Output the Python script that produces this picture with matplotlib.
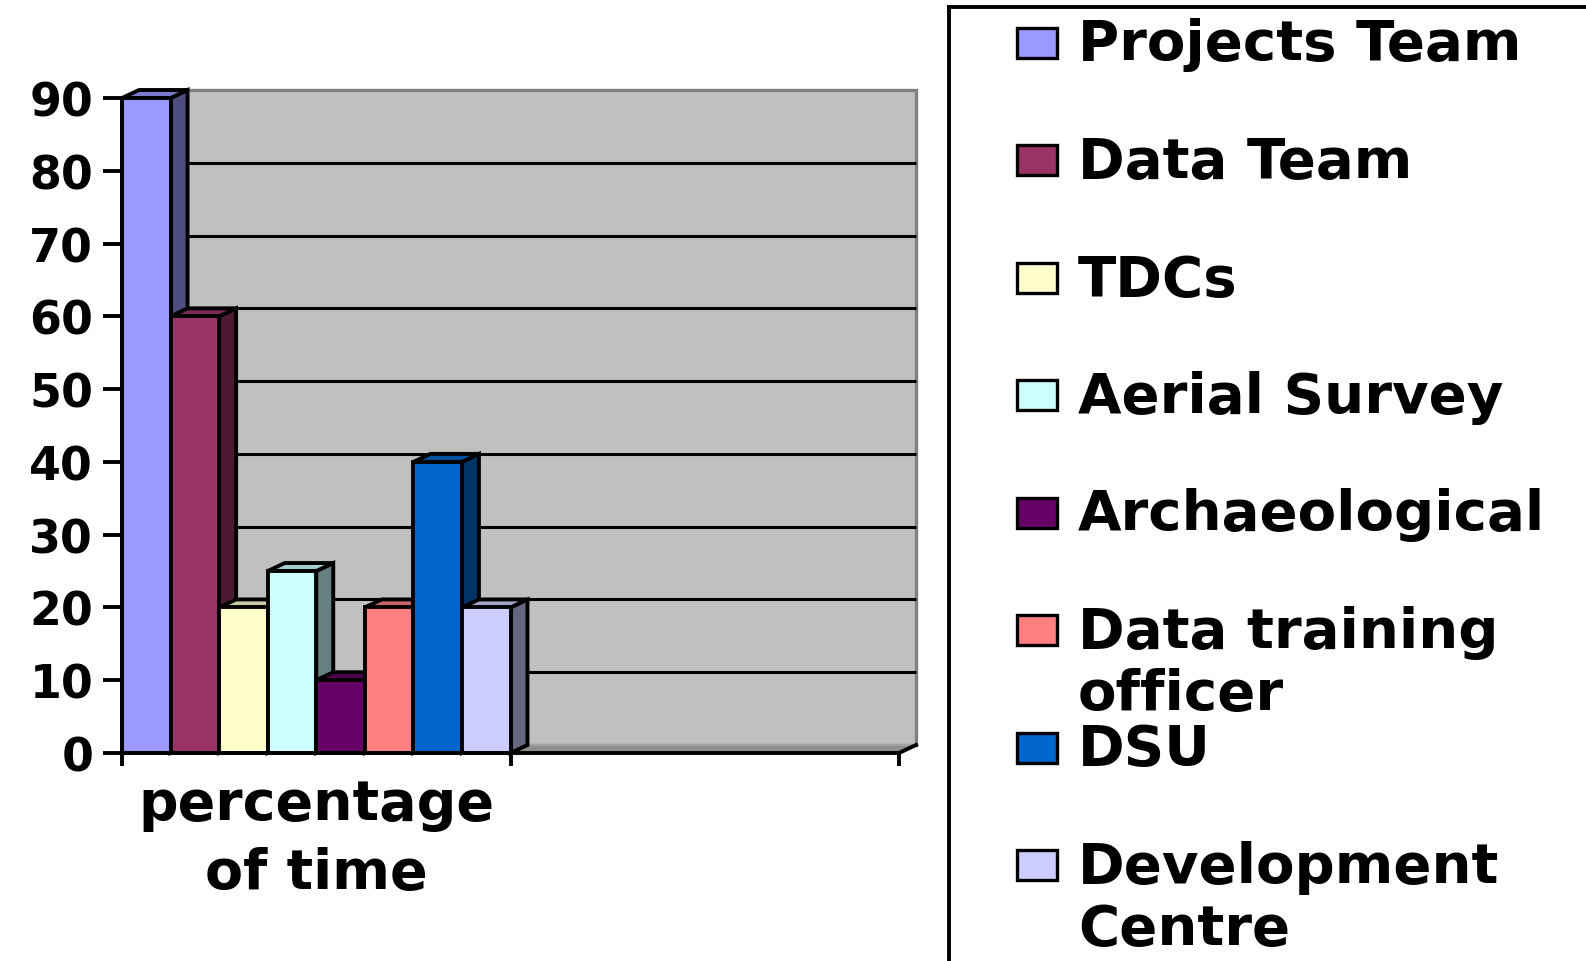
import matplotlib
matplotlib.use('Agg')
import matplotlib.pyplot as plt
from matplotlib.patches import Polygon, Rectangle
from matplotlib.lines import Line2D
import matplotlib.colors as mcolors

# ---- data ----
categories = ['percentage\nof time', '']
series = ['Projects Team', 'Data Team', 'TDCs', 'Aerial Survey', 'Archaeological',
          'Data training\nofficer', 'DSU', 'Development\nCentre']
values = [90, 60, 20, 25, 10, 20, 40, 20]
colors = ['#9999FF', '#993366', '#FFFFCC', '#CCFFFF', '#660066', '#FF8080', '#0066CC', '#CCCCFF']
yticks = [0, 10, 20, 30, 40, 50, 60, 70, 80, 90]

plt.rcParams['font.family'] = ['DejaVu Sans']
plt.rcParams['font.weight'] = 'bold'

W, H = 1586, 962
fig = plt.figure(figsize=(W / 100, H / 100), dpi=100)
fig.patch.set_facecolor('white')

def fx(px):
    return px / W

def fy(py):
    return 1 - py / H

EDGE = 2.8

# plot area: x 122..899 px, y 99 (90) .. 754 (0)
ax = fig.add_axes([fx(122), fy(754), (899 - 122) / W, (754 - 99) / H])
ncat = len(categories)
ax.set_xlim(0, ncat)
ax.set_ylim(yticks[0], yticks[-1])
ax.patch.set_visible(False)
for s in ['top', 'right']:
    ax.spines[s].set_visible(False)
for s in ['left', 'bottom']:
    ax.spines[s].set_linewidth(EDGE)
    ax.spines[s].set_zorder(20)
    ax.spines[s].set_capstyle('projecting')

# depth offsets in data units (17 px right, 8 px up)
dx = 17 * ncat / (899 - 122)
dy = 8 * (yticks[-1] - yticks[0]) / (754 - 99)

# back wall
wall = Polygon([(dx, dy), (ncat + dx, dy), (ncat + dx, yticks[-1] + dy), (dx, yticks[-1] + dy)],
               closed=True, fc='#C0C0C0', ec='#808080', lw=2.4, clip_on=False, zorder=0.5)
ax.add_patch(wall)
for t in yticks[1:-1]:
    ax.plot([dx, ncat + dx], [t + dy, t + dy], color='black', lw=2.2, clip_on=False, zorder=0.6,
            solid_capstyle='butt')
# floor
floor = Polygon([(0, 0), (ncat, 0), (ncat + dx, dy), (dx, dy)], closed=True,
                fc='#8E8E8E', ec='none', clip_on=False, zorder=0.7)
ax.add_patch(floor)
ax.plot([dx, ncat + dx], [dy, dy], color='#A8A8A8', lw=1.2, clip_on=False, zorder=0.75)
ax.plot([ncat, ncat + dx], [0, dy], color='black', lw=EDGE, clip_on=False, zorder=0.8)

# bars (first category)
n = len(values)
bw = 1.0 / n
for i, (v, c) in enumerate(zip(values, colors)):
    x0 = i * bw
    rgb = mcolors.to_rgb(c)
    top_c = tuple(k * 0.8 for k in rgb)
    side_c = tuple(k * 0.5 for k in rgb)
    z = 2 + i * 0.1
    side = Polygon([(x0 + bw, 0), (x0 + bw + dx, dy), (x0 + bw + dx, v + dy), (x0 + bw, v)],
                   closed=True, fc=side_c, ec='black', lw=EDGE, joinstyle='miter',
                   clip_on=False, zorder=z)
    top = Polygon([(x0, v), (x0 + bw, v), (x0 + bw + dx, v + dy), (x0 + dx, v + dy)],
                  closed=True, fc=top_c, ec='black', lw=EDGE, joinstyle='miter',
                  clip_on=False, zorder=z + 0.01)
    front = Rectangle((x0, 0), bw, v, fc=c, ec='black', lw=EDGE, joinstyle='miter',
                      clip_on=False, zorder=z + 0.02)
    ax.add_patch(side)
    ax.add_patch(top)
    ax.add_patch(front)

# axes ticks
ax.set_yticks(yticks)
ax.set_yticklabels([str(t) for t in yticks], fontsize=33, fontweight='heavy')
ax.tick_params(axis='y', length=19 * 0.72, width=EDGE, pad=7, color='black')
ax.set_xticks(range(ncat + 1))
ax.set_xticklabels([''] * (ncat + 1))
ax.tick_params(axis='x', which='major', length=13 * 0.72, width=EDGE, direction='out')
ax.set_xticks([k + 0.5 for k in range(ncat)], minor=True)
ax.set_xticklabels(categories, minor=True, fontsize=40, fontweight='bold', linespacing=1.36)
ax.tick_params(axis='x', which='minor', length=0, pad=17)

# legend (manual, Excel style)
fig.add_artist(Line2D([fx(949), fx(949)], [fy(8), fy(H + 5)], color='black', lw=EDGE,
                      transform=fig.transFigure))
fig.add_artist(Line2D([fx(949), fx(W + 5)], [fy(8), fy(8)], color='black', lw=EDGE,
                      transform=fig.transFigure))
for i, (lab, c) in enumerate(zip(series, colors)):
    cy = 43.5 + 117.5 * i
    fig.add_artist(Rectangle((fx(1017), fy(cy + 15)), 40 / W, 30 / H, fc=c, ec='black', lw=2.4,
                             transform=fig.transFigure))
    fig.text(fx(1078), fy(cy - 25), lab, fontsize=40.5, fontweight='bold', va='top',
             ha='left', linespacing=1.2)

fig.savefig('out.png', dpi=100, facecolor='white')
